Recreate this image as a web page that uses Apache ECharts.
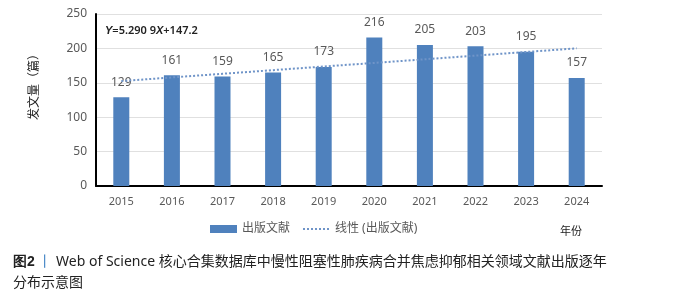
<!DOCTYPE html>
<html>
<head>
<meta charset="utf-8">
<script src="https://cdn.jsdelivr.net/npm/echarts@6/dist/echarts.min.js"></script>
<style>
  html, body { margin: 0; padding: 0; background: #fff; }
  #chart { width: 683px; height: 300px; }
</style>
</head>
<body>
<div id="chart"></div>
<script>
const years = ['2015', '2016', '2017', '2018', '2019', '2020', '2021', '2022', '2023', '2024']
const papers = [129, 161, 159, 165, 173, 216, 205, 203, 195, 157]
// trend values
const trend = [152.5, 157.8, 163.1, 168.4, 173.7, 178.9, 184.2, 189.5, 194.8, 200.1]
const yTicks = [0, 50, 100, 150, 200, 250]

const font = "'Noto Sans', 'Noto Sans CJK SC', sans-serif"
const grey = '#595959'

const chart = echarts.init(document.getElementById('chart'))

chart.setOption({
  animation: false,
  textStyle: { fontFamily: font },
  grid: { left: 96, right: 81, top: 14, bottom: 114 },
  legend: {
    top: 218,
    left: 205,
    itemWidth: 27,
    itemHeight: 8,
    itemGap: 12,
    textStyle: { color: grey, fontSize: 12, fontFamily: font },
    data: [
      { name: '出版文献', icon: 'rect' },
      { name: '线性 (出版文献)', itemStyle: { opacity: 0 } }
    ]
  },
  xAxis: {
    type: 'category',
    data: years,
    boundaryGap: true,
    axisLine: { lineStyle: { color: '#000', width: 2 } },
    axisTick: { show: false },
    axisLabel: { color: grey, fontSize: 11, margin: 10 }
  },
  yAxis: {
    type: 'value',
    min: yTicks[0],
    max: yTicks[yTicks.length - 1],
    interval: 50,
    axisLine: { show: true, lineStyle: { color: '#000', width: 2 } },
    axisTick: { show: false },
    axisLabel: { color: grey, fontSize: 12, margin: 9 },
    splitLine: { lineStyle: { color: '#e0e0e0' } }
  },
  series: [
    {
      name: '出版文献',
      type: 'bar',
      data: papers,
      barWidth: 16,
      itemStyle: { color: '#4f81bd' },
      label: { show: true, position: 'top', distance: 9, color: grey, fontSize: 12 }
    },
    {
      name: '线性 (出版文献)',
      type: 'line',
      data: trend,
      symbol: 'none',
      z: 5,
      itemStyle: { color: '#6f94c8' },
      lineStyle: { color: '#6f94c8', width: 2, type: [2, 2] }
    }
  ],
  graphic: [
    {
      type: 'text',
      left: 105,
      top: 25,
      style: {
        text: '{i|Y}=5.290 9{i|X}+147.2',
        font: '600 11px ' + font,
        fill: '#222',
        rich: { i: { fontStyle: 'italic', fontWeight: 600, fontSize: 11, fill: '#222' } }
      }
    },
    {
      type: 'text',
      x: 35,
      y: 84,
      rotation: Math.PI / 2,
      style: {
        text: '发文量（篇）',
        font: '12px ' + font,
        fill: '#222',
        align: 'center',
        verticalAlign: 'middle'
      }
    },
    {
      type: 'text',
      left: 560,
      top: 226,
      style: { text: '年份', font: '11px ' + font, fill: '#222' }
    },
    {
      type: 'text',
      left: 13,
      top: 252,
      style: {
        text: '{b|图2} {bar|丨} Web of Science 核心合集数据库中慢性阻塞性肺疾病合并焦虑抑郁相关领域文献出版逐年\n分布示意图',
        font: '14px ' + font,
        fill: '#222',
        lineHeight: 21,
        rich: {
          b: { fontWeight: 'bold', fontSize: 14, fill: '#222' },
          bar: { fill: '#3a7fc2', fontSize: 14 }
        }
      }
    }
  ]
})
</script>
</body>
</html>
